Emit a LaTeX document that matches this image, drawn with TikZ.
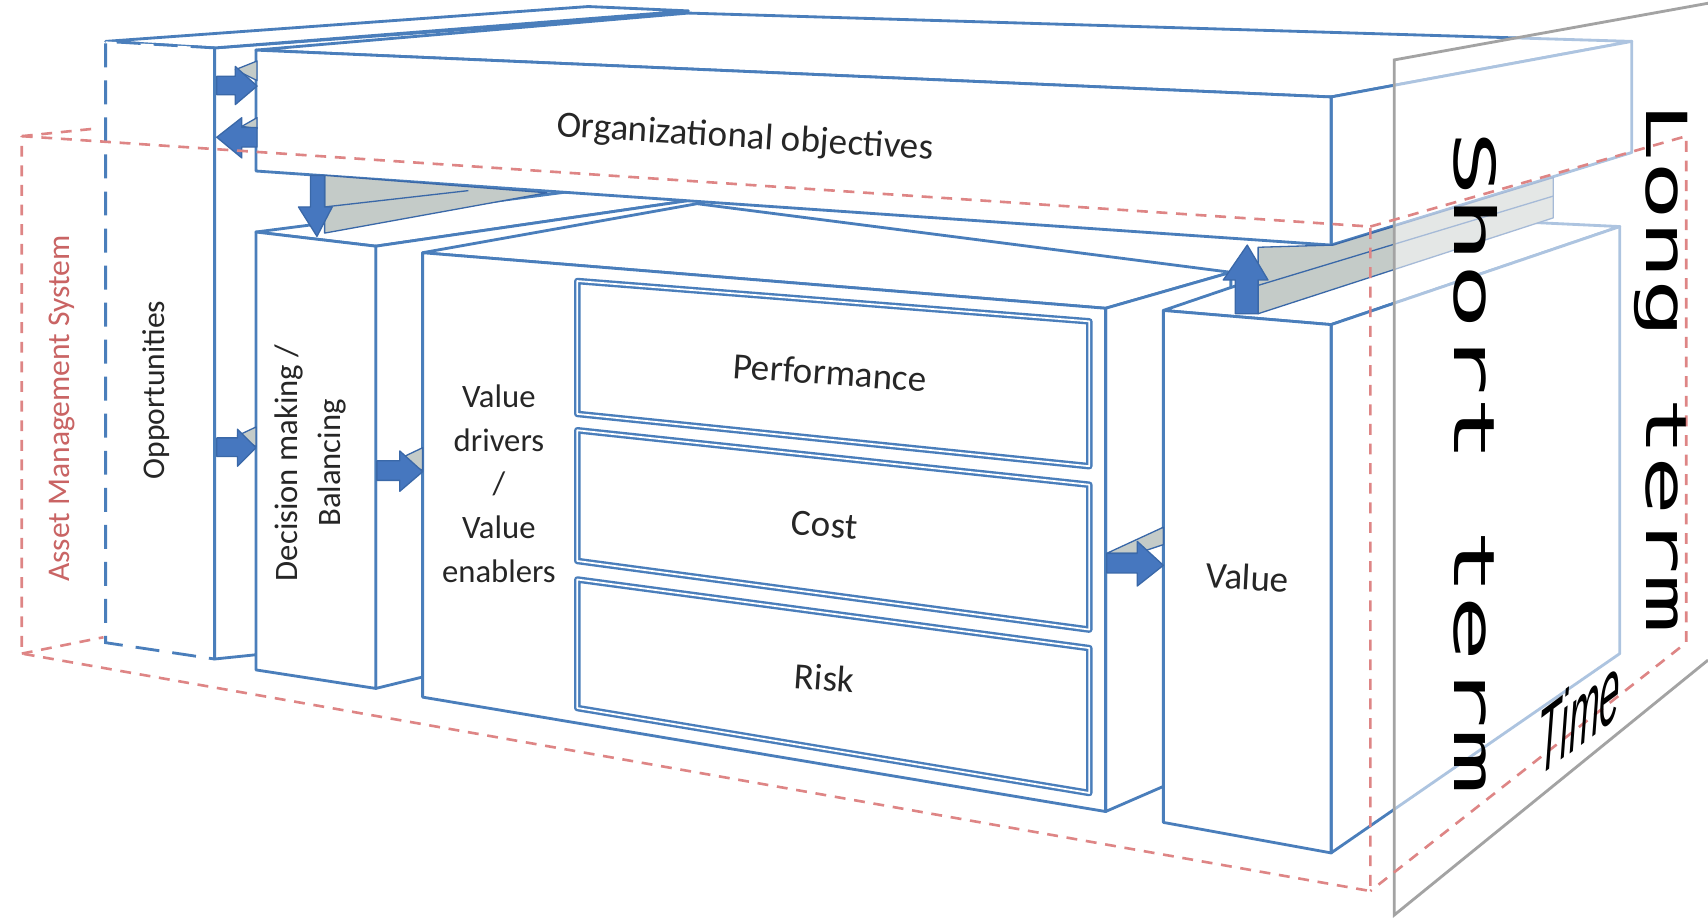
\documentclass[tikz,border=0pt]{standalone}
\usepackage{fontspec}
\setmainfont{Carlito}
\newfontfamily\termfont{DejaVu Sans Mono}
\newfontfamily\timefont{Liberation Sans}
\definecolor{boxblue}{HTML}{4A7EBB}
\definecolor{arrowblue}{HTML}{4677BF}
\definecolor{arrowline}{HTML}{3A68A8}
\definecolor{sidegray}{HTML}{C4CBC8}
\definecolor{amsred}{HTML}{DE8585}
\definecolor{amstext}{HTML}{C96464}
\definecolor{panelgray}{HTML}{A3A3A3}
\definecolor{textgray}{HTML}{262626}
\tikzset{
  box/.style={draw=boxblue, line width=2.6pt, fill=white, line join=round},
  inner/.style={draw=boxblue, line width=2.2pt, double=white, double distance=1.6pt, fill=white, line join=round},
  oppdash/.style={draw=boxblue, line width=2.6pt, dash pattern=on 22pt off 12pt},
  ams/.style={draw=amsred, line width=2.4pt, dash pattern=on 10pt off 8pt},
  blockarrow/.style={fill=arrowblue, draw=arrowline, line width=1.2pt, line join=round},
  side/.style={fill=sidegray, draw=arrowline, line width=1.2pt, line join=round},
  panel/.style={draw=panelgray, line width=2.6pt},
  lbl/.style={font=\fontsize{30}{40}\selectfont, text=textgray, align=center, inner sep=0pt},
  term/.style={font=\termfont\fontsize{52}{52}\selectfont, text=black, inner sep=0pt},
}
\begin{document}
\begin{tikzpicture}[x=1pt,y=-1pt]
	\useasboundingbox (0,0) rectangle (1568,842);

	% opportunities
	\draw[box] (197,44) -- (632,12) -- (632,560) -- (197,605) -- cycle;
	\draw[box] (197,44) -- (97,38) -- (540,6) -- (632,10) -- cycle;
	\fill[white] (97,38) -- (197,44) -- (197,605) -- (97,590) -- cycle;
	\draw[oppdash] (197,44) -- (97,38) -- (97,590) -- (197,605);
	\draw[box] (197,44) -- (197,605);

	% decision making
	\draw[box] (235,213) -- (530,175) -- (640,183) -- (345,226) -- cycle;
	\draw[box] (345,226) -- (640,183) -- (640,560) -- (345,632) -- cycle;
	\draw[box] (235,213) -- (345,226) -- (345,632) -- (235,615) -- cycle;

	% value drivers
	\draw[box] (388,232) -- (640,187) -- (1130,250) -- (1015,283) -- cycle;
	\draw[box] (1015,283) -- (1130,250) -- (1130,695) -- (1015,745) -- cycle;
	\draw[box] (388,232) -- (1015,283) -- (1015,745) -- (388,640) -- cycle;
	\draw[inner] (530,258) -- (1000,295) -- (1000,428) -- (530,380) -- cycle;
	\draw[inner] (530,395) -- (1000,445) -- (1000,578) -- (530,515) -- cycle;
	\draw[inner] (530,532) -- (1000,595) -- (1000,728) -- (530,650) -- cycle;

	% value
	\draw[box] (1068,285) -- (1318,200) -- (1487,208) -- (1222,298) -- cycle;
	\draw[box] (1222,298) -- (1487,208) -- (1487,600) -- (1222,783) -- cycle;
	\draw[box] (1068,285) -- (1222,298) -- (1222,783) -- (1068,755) -- cycle;

	% organizational objectives
	\draw[box] (235,46) -- (632,12) -- (1498,38) -- (1222,89) -- cycle;
	\draw[box] (1222,89) -- (1498,38) -- (1498,140) -- (1222,225) -- cycle;
	\draw[box] (235,46) -- (1222,89) -- (1222,225) -- (235,157) -- cycle;

	% arrows
	\draw[side] (298,161) -- (502,177) -- (298,214) -- cycle;
	\draw[arrowline,line width=1.2pt] (298,190) -- (430,175);
	\draw[blockarrow] (285,161) -- (298,161) -- (298,190) -- (305,190) -- (291,217) -- (274,190) -- (285,190) -- cycle;

	\draw[side] (1155,227) -- (1224,225) -- (1426,163) -- (1426,200) -- (1155,288) -- cycle;
	\draw[arrowline,line width=1.2pt] (1155,262) -- (1426,180);
	\draw[blockarrow] (1134,288) -- (1155,288) -- (1155,257) -- (1164,257) -- (1145,225) -- (1123,257) -- (1134,257) -- cycle;

	\draw[side] (216,64) -- (236,56) -- (236,74) -- cycle;
	\draw[blockarrow] (199,70) -- (216,70) -- (216,61) -- (236,79) -- (216,96) -- (216,87) -- (199,87) -- cycle;
	\draw[side] (222,116) -- (236,108) -- (236,118) -- cycle;
	\draw[blockarrow] (236,117) -- (222,117) -- (222,108) -- (199,126) -- (222,145) -- (222,135) -- (236,135) -- cycle;
	\draw[side] (218,400) -- (235,392) -- (235,410) -- cycle;
	\draw[blockarrow] (199,402) -- (218,402) -- (218,394) -- (235,411) -- (218,428) -- (218,419) -- (199,419) -- cycle;
	\draw[side] (367,421) -- (388,411) -- (388,432) -- cycle;
	\draw[blockarrow] (346,423) -- (367,423) -- (367,414) -- (388,433) -- (367,451) -- (367,441) -- (346,441) -- cycle;
	\draw[side] (1016,508) -- (1068,484) -- (1068,500) -- (1044,508) -- cycle;
	\draw[blockarrow] (1016,508) -- (1044,508) -- (1044,497) -- (1068,519) -- (1044,538) -- (1044,526) -- (1016,526) -- cycle;

	% time panel
	\fill[white,fill opacity=0.55] (1280,55) -- (1568,3) -- (1568,606) -- (1280,840) -- cycle;
	\draw[panel] (1568,3) -- (1280,55) -- (1280,840) -- (1568,606);

	% asset management system
	\draw[ams] (20,125) -- (1258,208) -- (1258,818) -- (20,600) -- cycle;
	\draw[ams] (20,125) -- (88,118);
	\draw[ams] (20,600) -- (95,585);
	\draw[ams] (1258,208) -- (1548,125) -- (1548,590) -- (1258,818);

	% labels
	\node[lbl,font=\fontsize{34}{40}\selectfont,rotate=-3.5] (orgobj) at (684,127) {Organizational objectives};
	\node[lbl,font=\fontsize{29}{36}\selectfont,rotate=90] (opport) at (143,358) {Opportunities};
	\node[lbl,rotate=90] (decision) at (285,425) {Decision making /\\Balancing};
	\node[lbl] (drivers) at (458,444) {Value\\drivers\\/\\Value\\enablers};
	\node[lbl,font=\fontsize{34}{40}\selectfont,rotate=-4] (perf) at (762,342) {Performance};
	\node[lbl,font=\fontsize{34}{40}\selectfont,rotate=-4] (cost) at (757,482) {Cost};
	\node[lbl,font=\fontsize{34}{40}\selectfont,rotate=-4] (risk) at (757,622) {Risk};
	\node[lbl,font=\fontsize{34}{40}\selectfont,rotate=-3] (value) at (1145,530) {Value};
	\node[lbl,font=\fontsize{29}{34}\selectfont,text=amstext,rotate=90] (amslabel) at (57,375) {Asset Management System};
	\node[term,rotate=-90,xscale=1.95] (shortterm) at (1355,425) {Short term};
	\node[term,rotate=-90,xscale=1.73] (longterm) at (1525,338) {Long term};
	\node[inner sep=0pt,font=\timefont\itshape\fontsize{85}{85}\selectfont,yslant=0.75,xscale=0.4] (time) at (1450,655) {Time};
\end{tikzpicture}
\end{document}
